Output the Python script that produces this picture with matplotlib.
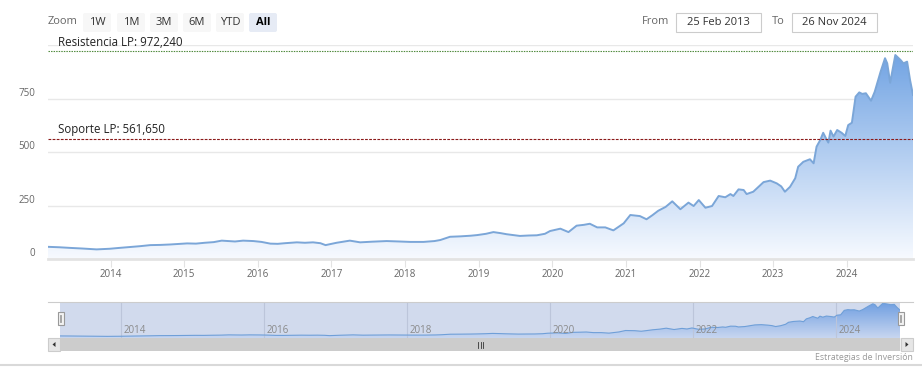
import matplotlib.pyplot as plt
import matplotlib.patches as mpatches
import numpy as np

W, H = 922, 383

# weekly-ish closes (decimal year, price)
years = [2013.15, 2013.30, 2013.45, 2013.62, 2013.81, 2013.99, 2014.12, 2014.26, 2014.40,
         2014.54, 2014.68, 2014.81, 2015.04, 2015.16, 2015.28, 2015.40, 2015.51, 2015.60,
         2015.69, 2015.80, 2015.94, 2016.05, 2016.17, 2016.27, 2016.37, 2016.53, 2016.64,
         2016.75, 2016.85, 2016.92, 2017.07, 2017.25, 2017.39, 2017.55, 2017.75, 2017.92,
         2018.07, 2018.25, 2018.40, 2018.48, 2018.61, 2018.75, 2018.89, 2018.98, 2019.10,
         2019.20, 2019.30, 2019.38, 2019.47, 2019.56, 2019.68, 2019.79, 2019.90, 2019.97,
         2020.11, 2020.22, 2020.33, 2020.43, 2020.51, 2020.61, 2020.72, 2020.83, 2020.97,
         2021.06, 2021.19, 2021.28, 2021.36, 2021.44, 2021.54, 2021.63, 2021.74, 2021.85,
         2021.92, 2021.99, 2022.08, 2022.17, 2022.26, 2022.35, 2022.42, 2022.46, 2022.53,
         2022.60, 2022.64, 2022.73, 2022.78, 2022.87, 2022.96, 2023.05, 2023.11, 2023.16,
         2023.23, 2023.30, 2023.34, 2023.41, 2023.50, 2023.55, 2023.59, 2023.64, 2023.68,
         2023.73, 2023.75, 2023.78, 2023.82, 2023.87, 2023.93, 2023.98, 2024.02, 2024.07,
         2024.12, 2024.17, 2024.21, 2024.26, 2024.33, 2024.38, 2024.46, 2024.52, 2024.55,
         2024.59, 2024.63, 2024.66, 2024.73, 2024.77, 2024.82, 2024.86, 2024.90]
price = [57, 55, 52, 49, 45, 48, 52, 56, 60,
         65, 66, 68, 73, 72, 76, 79, 86, 84,
         82, 86, 84, 80, 72, 71, 74, 78, 76,
         78, 74, 65, 76, 86, 78, 81, 84, 82,
         80, 80, 84, 89, 104, 106, 109, 112, 118,
         126, 121, 116, 112, 108, 110, 111, 118, 131,
         142, 126, 156, 160, 165, 148, 148, 134, 167,
         206, 201, 186, 205, 226, 244, 270, 233, 264,
         248, 276, 240, 248, 295, 289, 304, 295, 326,
         323, 304, 315, 331, 360, 367, 354, 340, 315,
         338, 378, 432, 455, 467, 448, 526, 557, 591,
         557, 545, 601, 573, 604, 591, 576, 627, 638,
         760, 780, 773, 776, 741, 783, 877, 940, 916,
         825, 900, 955, 932, 916, 924, 838, 768]

resistencia = 972.240
soporte = 561.650
y_ticks = [0, 250, 500, 750, 1000]
y_labels = ['0', '250', '500', '750', '']
x_ticks = list(range(2014, 2025))
nav_ticks = [2014, 2016, 2018, 2020, 2022, 2024]
zoom_buttons = ['1W', '1M', '3M', '6M', 'YTD', 'All']
date_from = '25 Feb 2013'
date_to = '26 Nov 2024'

plt.rcParams['font.family'] = ['Open Sans', 'DejaVu Sans']


def box(l, t, r, b):
    return [l / W, 1 - b / H, (r - l) / W, (b - t) / H]


def gradient_area(ax, x, y, top, bottom, ymax):
    n = 256
    t = np.linspace(1, 0, n)
    img = np.zeros((n, 1, 3))
    for k in range(3):
        img[:, 0, k] = (bottom[k] + (top[k] - bottom[k]) * t) / 255
    im = ax.imshow(img, extent=[x[0], x[-1], 0, ymax], aspect='auto',
                   origin='upper', zorder=1, interpolation='bilinear')
    verts = np.vstack([[x[0], 0], np.column_stack([x, y]), [x[-1], 0]])
    poly = mpatches.Polygon(verts, closed=True, fc='none', ec='none')
    ax.add_patch(poly)
    im.set_clip_path(poly)


x = np.array(years)
y = np.array(price)

fig = plt.figure(figsize=(W / 100, H / 100), dpi=100)

# main chart
ax = fig.add_axes(box(48, 45.4, 913, 259))
gradient_area(ax, x, y, (108, 160, 226), (247, 250, 255), 1000)
ax.plot(x, y, color='#7ba6d8', lw=1.4, zorder=3)
ax.set_xlim(x[0], x[-1])
ax.set_ylim(0, 1000)
ax.set_yticks(y_ticks)
ax.set_yticklabels(y_labels)
ax.set_xticks(x_ticks)
ax.grid(axis='y', color='#e8e8e8', lw=1)
ax.set_axisbelow(True)
for s in ['top', 'left', 'right']:
    ax.spines[s].set_visible(False)
ax.spines['bottom'].set_color('#e3e3e3')
ax.spines['bottom'].set_linewidth(2)
ax.tick_params(axis='y', length=0, pad=9, labelsize=7, labelcolor='#666666')
for lab in ax.get_yticklabels():
    lab.set_verticalalignment('bottom')
ax.tick_params(axis='x', length=6, width=0.8, color='#e3e3e3', pad=1.5,
               labelsize=7, labelcolor='#666666')

ax.axhline(resistencia, color='#4f8a3c', lw=0.8, ls=(0, (1.3, 1.0)), zorder=4)
ax.axhline(soporte, color='#8b1a1a', lw=0.8, ls=(0, (2.5, 1.2)), zorder=4)
ax.annotate('Resistencia LP: %s' % f'{resistencia:.3f}'.replace('.', ','),
            xy=(0.0116, resistencia), xycoords=('axes fraction', 'data'),
            xytext=(0, 2), textcoords='offset points', va='bottom',
            fontsize=8.3, color='#222222', zorder=5)
ax.annotate('Soporte LP: %s' % f'{soporte:.3f}'.replace('.', ','),
            xy=(0.0116, soporte), xycoords=('axes fraction', 'data'),
            xytext=(0, 2), textcoords='offset points', va='bottom',
            fontsize=8.3, color='#222222', zorder=5)

# navigator
nav = fig.add_axes(box(60, 302, 900, 338))
nav.set_facecolor('#d1daed')
gradient_area(nav, x, y, (110, 158, 225), (200, 214, 240), 990)
nav.plot(x, y, color='#6f9fd8', lw=0.8, zorder=3)
nav.set_xlim(x[0], x[-1])
nav.set_ylim(0, 990)
for t in nav_ticks:
    nav.axvline(t, color='#bcc5da', lw=0.8, zorder=2)
    nav.annotate(str(t), xy=(t, 0.2), xycoords=('data', 'axes fraction'),
                 xytext=(2, 0), textcoords='offset points', va='center',
                 ha='left', fontsize=7, color='#8a8a8a', zorder=4)
nav.set_xticks([])
nav.set_yticks([])
for s in nav.spines.values():
    s.set_visible(False)

# overlay in pixel coordinates for the UI pieces
ov = fig.add_axes([0, 0, 1, 1], zorder=5)
ov.set_xlim(0, W)
ov.set_ylim(H, 0)
ov.axis('off')

ov.plot([48, 913], [302, 302], color='#cccccc', lw=0.8)
ov.text(48, 22, 'Zoom', fontsize=8, color='#666666', va='center')
bx = [83, 117, 150, 183, 216, 249]
for lab, b in zip(zoom_buttons, bx):
    sel = lab == 'All'
    ov.add_patch(mpatches.FancyBboxPatch((b, 13), 28, 19, boxstyle='round,pad=0,rounding_size=2',
                                         fc='#e6ebf5' if sel else '#f7f7f7', ec='none'))
    ov.text(b + 14, 22.5, lab, fontsize=8, color='#000000' if sel else '#333333',
            ha='center', va='center', fontweight='bold' if sel else 'normal')

ov.text(669, 22, 'From', fontsize=8, color='#666666', va='center', ha='right')
ov.add_patch(mpatches.Rectangle((676, 13), 85, 19, fc='white', ec='#cccccc', lw=0.8))
ov.text(718.5, 22.5, date_from, fontsize=8, color='#333333', ha='center', va='center')
ov.text(785, 22, 'To', fontsize=8, color='#666666', va='center', ha='right')
ov.add_patch(mpatches.Rectangle((792, 13), 85, 19, fc='white', ec='#cccccc', lw=0.8))
ov.text(834.5, 22.5, date_to, fontsize=8, color='#333333', ha='center', va='center')

# navigator handles
for hx in [57.5, 897.5]:
    ov.add_patch(mpatches.Rectangle((hx, 312), 6, 12.5, fc='#f2f2f2', ec='#999999', lw=0.8, zorder=5))
    ov.plot([hx + 2.3, hx + 2.3], [315, 321.5], color='#999999', lw=0.6, zorder=6)
    ov.plot([hx + 3.7, hx + 3.7], [315, 321.5], color='#999999', lw=0.6, zorder=6)

# scrollbar
ov.add_patch(mpatches.Rectangle((48, 338), 865, 13, fc='#f2f2f2', ec='none'))
ov.add_patch(mpatches.Rectangle((60, 338), 840, 13, fc='#cccccc', ec='none'))
ov.add_patch(mpatches.Rectangle((48, 338), 12, 13, fc='#e6e6e6', ec='#cccccc', lw=0.8))
ov.add_patch(mpatches.Rectangle((901, 338), 12, 13, fc='#e6e6e6', ec='#cccccc', lw=0.8))
ov.add_patch(mpatches.Polygon([[55.5, 342], [55.5, 347], [52.5, 344.5]], fc='#333333', ec='none'))
ov.add_patch(mpatches.Polygon([[905.5, 342], [905.5, 347], [908.5, 344.5]], fc='#333333', ec='none'))
for gx in [478, 480.5, 483]:
    ov.plot([gx, gx], [341.5, 347.5], color='#333333', lw=0.6)

ov.plot([0, W], [365, 365], color='#d9d9d9', lw=1.5)
ov.text(913, 357, 'Estrategias de Inversión', fontsize=6.3, color='#999999',
        ha='right', va='center')

fig.savefig('out.png', dpi=100)
